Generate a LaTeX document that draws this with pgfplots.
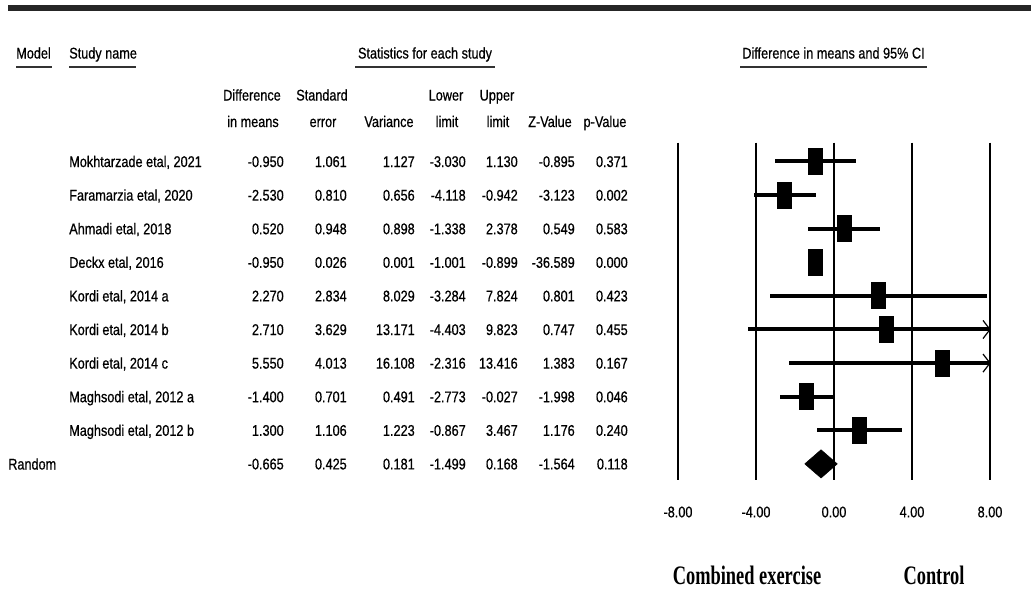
\documentclass[border=0pt]{standalone}
\usepackage{fontspec}
\setmainfont{Liberation Sans}[FakeStretch=0.82,FakeBold=0.6]
\newfontfamily\tnr{Liberation Serif}[FakeStretch=0.69]
\usepackage{pgfplots}
\pgfplotsset{compat=1.18}
\usepackage{pgfplotstable}

\pgfdeclareplotmark{fbox}{\pgfpathrectangle{\pgfpoint{-5.6pt}{-10.1pt}}{\pgfpoint{11.2pt}{20.2pt}}\pgfusepathqfill}

% row  est  se  var  lower  upper  z  p
\pgfplotstableread{
row est se var lo hi z p
1 -0.950 1.061 1.127 -3.030 1.130 -0.895 0.371
2 -2.530 0.810 0.656 -4.118 -0.942 -3.123 0.002
3 0.520 0.948 0.898 -1.338 2.378 0.549 0.583
4 -0.950 0.026 0.001 -1.001 -0.899 -36.589 0.000
5 2.270 2.834 8.029 -3.284 7.824 0.801 0.423
6 2.710 3.629 13.171 -4.403 9.823 0.747 0.455
7 5.550 4.013 16.108 -2.316 13.416 1.383 0.167
8 -1.400 0.701 0.491 -2.773 -0.027 -1.998 0.046
9 1.300 1.106 1.223 -0.867 3.467 1.176 0.240
}\studies

\newcommand\txt{\fontsize{11.6}{13}\selectfont}
\newcommand\trow[9]{%
  \pgfmathsetmacro\yy{167+(#1-1)*33.6}%
  \node[anchor=base west] at (69,\yy) {#2};
  \node[anchor=base east] at (284,\yy) {#3};
  \node[anchor=base east] at (347,\yy) {#4};
  \node[anchor=base east] at (415,\yy) {#5};
  \node[anchor=base east] at (466,\yy) {#6};
  \node[anchor=base east] at (518,\yy) {#7};
  \node[anchor=base east] at (575,\yy) {#8};
  \node[anchor=base east] at (628,\yy) {#9};
}

\begin{document}
\begin{tikzpicture}[x=0.75pt,y=-0.75pt,every node/.style={inner sep=0pt,font=\txt}]
\path[use as bounding box] (0,0) rectangle (1031,590);
% top rule
\draw[line width=3.8pt,black!85] (8,8) -- (1031,8);
% headers
\node[anchor=base west] at (16,58.5) {Model};
\node[anchor=base west] at (69,58.5) {Study name};
\node[anchor=base] at (425,58.5) {Statistics for each study};
\node[anchor=base] at (833.5,58.5) {Difference in means and 95\% CI};
\draw[line width=2.2pt,black!80] (16,67) -- (52,67);
\draw[line width=2.2pt,black!80] (69,67) -- (136,67);
\draw[line width=2.2pt,black!80] (355,67) -- (495,67);
\draw[line width=2.2pt,black!80] (740,67) -- (927,67);
% column headers
\node[anchor=base] at (252,100.5) {Difference};
\node[anchor=base] at (253,127) {in means};
\node[anchor=base] at (322,100.5) {Standard};
\node[anchor=base] at (323,127) {error};
\node[anchor=base] at (389,127) {Variance};
\node[anchor=base] at (446,100.5) {Lower};
\node[anchor=base] at (447,127) {limit};
\node[anchor=base] at (497,100.5) {Upper};
\node[anchor=base] at (498,127) {limit};
\node[anchor=base] at (550,127) {Z-Value};
\node[anchor=base] at (605,127) {p-Value};
% table rows
\trow{1}{Mokhtarzade etal, 2021}{-0.950}{1.061}{1.127}{-3.030}{1.130}{-0.895}{0.371}
\trow{2}{Faramarzia etal, 2020}{-2.530}{0.810}{0.656}{-4.118}{-0.942}{-3.123}{0.002}
\trow{3}{Ahmadi etal, 2018}{0.520}{0.948}{0.898}{-1.338}{2.378}{0.549}{0.583}
\trow{4}{Deckx etal, 2016}{-0.950}{0.026}{0.001}{-1.001}{-0.899}{-36.589}{0.000}
\trow{5}{Kordi etal, 2014 a}{2.270}{2.834}{8.029}{-3.284}{7.824}{0.801}{0.423}
\trow{6}{Kordi etal, 2014 b}{2.710}{3.629}{13.171}{-4.403}{9.823}{0.747}{0.455}
\trow{7}{Kordi etal, 2014 c}{5.550}{4.013}{16.108}{-2.316}{13.416}{1.383}{0.167}
\trow{8}{Maghsodi etal, 2012 a}{-1.400}{0.701}{0.491}{-2.773}{-0.027}{-1.998}{0.046}
\trow{9}{Maghsodi etal, 2012 b}{1.300}{1.106}{1.223}{-0.867}{3.467}{1.176}{0.240}
\trow{10}{}{-0.665}{0.425}{0.181}{-1.499}{0.168}{-1.564}{0.118}
\node[anchor=base west] at (8,469.5) {Random};
% bottom labels
\node[anchor=base] at (747,584) {\tnr\bfseries\fontsize{20}{22}\selectfont Combined exercise};
\node[anchor=base] at (934,584) {\tnr\bfseries\fontsize{20}{22}\selectfont Control};
% forest plot
\begin{axis}[at={(508.5pt,-360pt)}, anchor=south west, scale only axis,
  width=234pt, height=253pt,
  xmin=-8, xmax=8, ymin=0.44, ymax=10.48, y dir=reverse,
  axis line style={draw=none}, major tick style={draw=none},
  ytick=\empty, xtick={-8,-4,0,4,8},
  xticklabels={-8.00,-4.00,0.00,4.00,8.00},
  xticklabel style={anchor=center, yshift=-24pt, font=\txt},
  xmajorgrids, grid style={black, line width=0.9pt}]
\addplot[black, only marks, mark=fbox,
  error bars/.cd, x dir=both, x explicit, error mark=none,
  error bar style={line width=3pt, black}]
  table[x=est, y=row,
        x error plus expr=\thisrow{hi}-\thisrow{est},
        x error minus expr=\thisrow{est}-\thisrow{lo}] {\studies};
% arrows for intervals beyond the axis
\addplot[black, line width=0.9pt] coordinates {(7.64,5.73) (8,6) (7.64,6.27)};
\addplot[black, line width=0.9pt] coordinates {(7.64,6.73) (8,7) (7.64,7.27)};
% summary diamond (random effects)
\addplot[fill=black, draw=black] coordinates {(-1.499,10) (-0.665,9.58) (0.168,10) (-0.665,10.42)} -- cycle;
\end{axis}
\end{tikzpicture}
\end{document}
